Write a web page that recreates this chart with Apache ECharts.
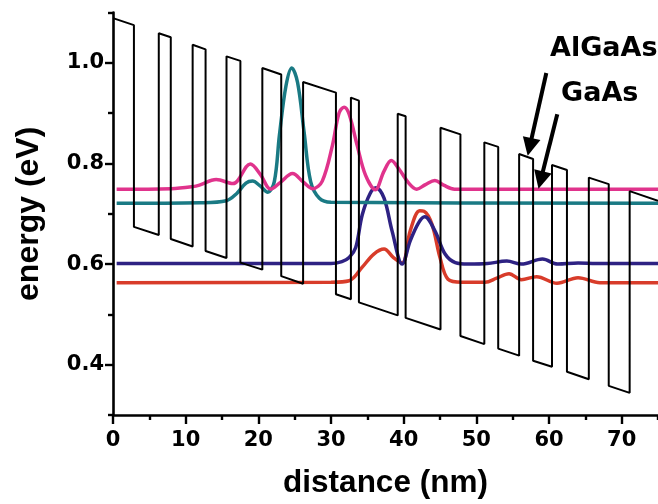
<!DOCTYPE html>
<html>
<head>
<meta charset="utf-8">
<style>
html, body { margin: 0; padding: 0; background: #fff; }
#chart { width: 658px; height: 504px; }
</style>
</head>
<body>
<div id="chart"></div>
<script src="https://cdn.jsdelivr.net/npm/echarts@6/dist/echarts.min.js"></script>
<script>
// conduction band edge, [distance nm, energy eV] (barrier tops / well bottoms)
var band = [
  [0, 1.089], [2.88, 1.075], [2.88, 0.674], [6.30, 0.658], [6.30, 1.059], [7.95, 1.051],
  [7.95, 0.650], [10.96, 0.635], [10.96, 1.036], [12.74, 1.027], [12.74, 0.626], [15.62, 0.612],
  [15.62, 1.013], [17.53, 1.004], [17.53, 0.603], [20.55, 0.589], [20.55, 0.990], [23.15, 0.977],
  [23.15, 0.576], [26.16, 0.561], [26.16, 0.962], [30.68, 0.941], [30.68, 0.540], [32.74, 0.530],
  [32.74, 0.931], [33.84, 0.925], [33.84, 0.524], [39.18, 0.498], [39.18, 0.899], [40.27, 0.894],
  [40.27, 0.493], [45.07, 0.470], [45.07, 0.871], [47.81, 0.858], [47.81, 0.457], [51.10, 0.441],
  [51.10, 0.842], [53.01, 0.833], [53.01, 0.432], [55.89, 0.418], [55.89, 0.819], [57.81, 0.809],
  [57.81, 0.408], [60.41, 0.396], [60.41, 0.797], [62.47, 0.787], [62.47, 0.386], [65.48, 0.371],
  [65.48, 0.772], [68.22, 0.759], [68.22, 0.358], [71.10, 0.344], [71.10, 0.745], [75, 0.726]
];

// wavefunctions drawn at their levels
var pink = [
  [0.5, 0.749], [8, 0.750], [11, 0.754], [11.9, 0.757], [14.2, 0.768], [16.5, 0.760],
  [18.9, 0.799], [20.3, 0.778], [21.7, 0.749], [23, 0.762], [24.7, 0.780], [26.2, 0.763],
  [27.5, 0.750], [28.8, 0.765], [30.2, 0.836], [31.1, 0.900], [31.8, 0.912], [32.5, 0.898],
  [33.6, 0.836], [34.75, 0.777], [36.1, 0.748], [37.3, 0.785], [38.3, 0.806], [39.4, 0.788],
  [40.7, 0.761], [41.8, 0.749], [43, 0.758], [44.3, 0.766], [45.5, 0.757], [47, 0.749], [75, 0.749]
];
var teal = [
  [0.5, 0.721], [12, 0.722], [15.6, 0.726], [17, 0.740], [18.3, 0.761], [19.2, 0.765],
  [20.2, 0.756], [21.3, 0.743], [22.2, 0.764], [22.9, 0.856], [23.8, 0.954], [24.6, 0.990],
  [25.4, 0.961], [26.3, 0.862], [27.2, 0.764], [28.4, 0.731], [30, 0.723], [75, 0.721]
];
var navy = [
  [0.5, 0.601], [30, 0.601], [31.5, 0.605], [32.5, 0.613], [33.4, 0.633], [34.3, 0.698],
  [35.4, 0.741], [36.2, 0.752], [37.3, 0.731], [38.4, 0.666], [39.8, 0.600], [40.9, 0.646],
  [42.05, 0.682], [42.9, 0.694], [44.3, 0.666], [45.7, 0.620], [47.1, 0.603], [48.9, 0.600],
  [51.5, 0.601], [54.2, 0.606], [56.2, 0.600], [59.1, 0.610], [61.2, 0.600], [64, 0.602],
  [66.5, 0.601], [75, 0.601]
];
var red = [
  [0.5, 0.563], [30, 0.564], [32.5, 0.567], [34.3, 0.594], [35.9, 0.620], [37.3, 0.630],
  [38.6, 0.613], [39.8, 0.602], [40.9, 0.666], [42.2, 0.706], [42.8, 0.705], [43.9, 0.679],
  [45, 0.613], [46.1, 0.570], [48, 0.564], [51.2, 0.564], [52.8, 0.572], [54.5, 0.581],
  [56.2, 0.569], [58.3, 0.575], [61.1, 0.562], [64, 0.573], [67, 0.563], [75, 0.563]
];

var xMajor = [0, 10, 20, 30, 40, 50, 60, 70];
var xMinor = [5, 15, 25, 35, 45, 55, 65, 75];
var yMajor = [0.4, 0.6, 0.8, 1.0];
var yMinor = [0.3, 0.5, 0.7, 0.9, 1.1];

// arrows: AlGaAs barrier, GaAs well
var arrows = [
  [[59.63, 0.980], [57.34, 0.833]],
  [[61.14, 0.898], [58.86, 0.767]]
];

var tickFont = 'DejaVu Sans';
var nameFont = 'Liberation Sans';

var myChart = echarts.init(document.getElementById('chart'));

function curve(data, color) {
  return {
    type: 'line',
    data: data,
    smooth: 0.35,
    symbol: 'none',
    z: 2,
    lineStyle: { color: color, width: 3.5 }
  };
}

myChart.setOption({
  animation: false,
  grid: { left: 113, top: 12.6, width: 547.5, height: 405.8 },
  xAxis: [{
    type: 'value', min: 0, max: 75,
    name: 'distance (nm)', nameLocation: 'middle', nameGap: 52,
    nameTextStyle: { fontFamily: nameFont, fontWeight: 'bold', fontSize: 31.5, color: '#000' },
    axisLine: { lineStyle: { color: '#000', width: 2.6 } },
    axisTick: { customValues: xMajor, length: 9, lineStyle: { color: '#000', width: 2.4 } },
    axisLabel: { customValues: xMajor, margin: 15, color: '#000', fontFamily: tickFont, fontWeight: 'bold', fontSize: 21 },
    splitLine: { show: false }
  }, {
    type: 'value', min: 0, max: 75, position: 'bottom',
    axisLine: { show: false },
    axisTick: { customValues: xMinor, length: 5, lineStyle: { color: '#000', width: 2.4 } },
    axisLabel: { show: false },
    splitLine: { show: false }
  }],
  yAxis: [{
    type: 'value', min: 0.3, max: 1.1,
    name: 'energy (eV)', nameLocation: 'middle', nameGap: 68, nameRotate: 90,
    nameTextStyle: { fontFamily: nameFont, fontWeight: 'bold', fontSize: 32, color: '#000' },
    axisLine: { lineStyle: { color: '#000', width: 2.6 } },
    axisTick: { customValues: yMajor, length: 8, lineStyle: { color: '#000', width: 2.4 } },
    axisLabel: {
      customValues: yMajor, margin: 9, color: '#000', fontFamily: tickFont, fontWeight: 'bold', fontSize: 21,
      formatter: function (v) { return v.toFixed(1); }
    },
    splitLine: { show: false }
  }, {
    type: 'value', min: 0.3, max: 1.1, position: 'left',
    axisLine: { show: false },
    axisTick: { customValues: yMinor, length: 5, lineStyle: { color: '#000', width: 2.4 } },
    axisLabel: { show: false },
    splitLine: { show: false }
  }],
  series: [
    curve(red, '#d83c2a'),
    curve(navy, '#2e2283'),
    curve(teal, '#1a7a84'),
    curve(pink, '#e0338c'),
    {
      type: 'line',
      data: band,
      symbol: 'none',
      z: 3,
      lineStyle: { color: '#000', width: 2 },
      markLine: {
        silent: true,
        symbol: ['none', 'triangle'],
        symbolSize: 18,
        label: { show: false },
        lineStyle: { color: '#000', width: 4, type: 'solid' },
        data: arrows.map(function (a) { return [{ coord: a[0] }, { coord: a[1] }]; })
      }
    }
  ],
  graphic: [
    { type: 'text', x: 550, y: 35, style: { text: 'AlGaAs', font: 'bold 27px "DejaVu Sans"', fill: '#000' } },
    { type: 'text', x: 561, y: 80, style: { text: 'GaAs', font: 'bold 27px "DejaVu Sans"', fill: '#000' } }
  ]
});
</script>
</body>
</html>
